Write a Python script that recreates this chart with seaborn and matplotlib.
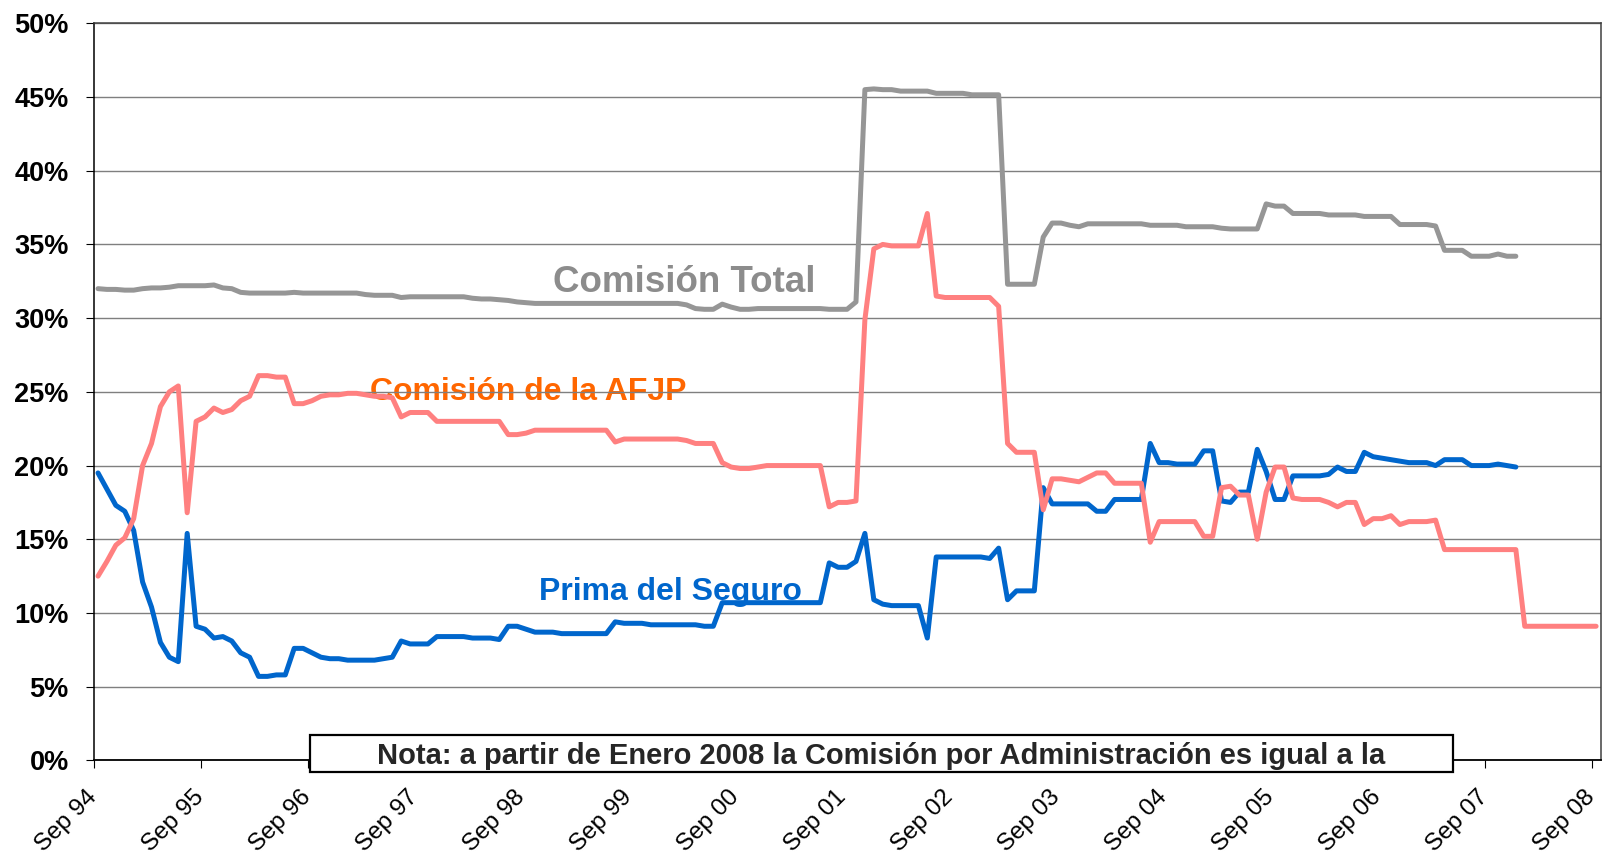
import numpy as np
import pandas as pd
import seaborn as sb
import matplotlib.pyplot as plt
from matplotlib.patches import Rectangle
from matplotlib.ticker import FuncFormatter

# Monthly values (%), first value = Sep 94
afjp = [12.5, 13.5, 14.6, 15.1, 16.4, 20.0, 21.5, 24.0, 25.0, 25.4,
        16.8, 23.0, 23.3, 23.9, 23.6, 23.8, 24.4, 24.7, 26.1, 26.1,
        26.0, 26.0, 24.2, 24.2, 24.4, 24.7, 24.8, 24.8, 24.9, 24.9,
        24.8, 24.7, 24.7, 24.6, 23.3, 23.6, 23.6, 23.6, 23.0, 23.0,
        23.0, 23.0, 23.0, 23.0, 23.0, 23.0, 22.1, 22.1, 22.2, 22.4,
        22.4, 22.4, 22.4, 22.4, 22.4, 22.4, 22.4, 22.4, 21.6, 21.8,
        21.8, 21.8, 21.8, 21.8, 21.8, 21.8, 21.7, 21.5, 21.5, 21.5,
        20.2, 19.9, 19.8, 19.8, 19.9, 20.0, 20.0, 20.0, 20.0, 20.0,
        20.0, 20.0, 17.2, 17.5, 17.5, 17.6, 29.9, 34.7, 35.0, 34.9,
        34.9, 34.9, 34.9, 37.1, 31.5, 31.4, 31.4, 31.4, 31.4, 31.4,
        31.4, 30.8, 21.5, 20.9, 20.9, 20.9, 17.0, 19.1, 19.1, 19.0,
        18.9, 19.2, 19.5, 19.5, 18.8, 18.8, 18.8, 18.8, 14.8, 16.2,
        16.2, 16.2, 16.2, 16.2, 15.2, 15.2, 18.5, 18.6, 18.0, 18.0,
        15.0, 18.2, 19.9, 19.9, 17.8, 17.7, 17.7, 17.7, 17.5, 17.2,
        17.5, 17.5, 16.0, 16.4, 16.4, 16.6, 16.0, 16.2, 16.2, 16.2,
        16.3, 14.3, 14.3, 14.3, 14.3, 14.3, 14.3, 14.3, 14.3, 14.3,
        9.1, 9.1, 9.1, 9.1, 9.1, 9.1, 9.1, 9.1, 9.1]

seguro = [19.5, 18.4, 17.3, 16.9, 15.6, 12.1, 10.4, 8.0, 7.0, 6.7,
          15.4, 9.1, 8.9, 8.3, 8.4, 8.1, 7.3, 7.0, 5.7, 5.7,
          5.8, 5.8, 7.6, 7.6, 7.3, 7.0, 6.9, 6.9, 6.8, 6.8,
          6.8, 6.8, 6.9, 7.0, 8.1, 7.9, 7.9, 7.9, 8.4, 8.4,
          8.4, 8.4, 8.3, 8.3, 8.3, 8.2, 9.1, 9.1, 8.9, 8.7,
          8.7, 8.7, 8.6, 8.6, 8.6, 8.6, 8.6, 8.6, 9.4, 9.3,
          9.3, 9.3, 9.2, 9.2, 9.2, 9.2, 9.2, 9.2, 9.1, 9.1,
          10.7, 10.7, 10.7, 10.7, 10.7, 10.7, 10.7, 10.7, 10.7, 10.7,
          10.7, 10.7, 13.4, 13.1, 13.1, 13.5, 15.4, 10.9, 10.6, 10.5,
          10.5, 10.5, 10.5, 8.3, 13.8, 13.8, 13.8, 13.8, 13.8, 13.8,
          13.7, 14.4, 10.9, 11.5, 11.5, 11.5, 18.5, 17.4, 17.4, 17.4,
          17.4, 17.4, 16.9, 16.9, 17.7, 17.7, 17.7, 17.7, 21.5, 20.2,
          20.2, 20.1, 20.1, 20.1, 21.0, 21.0, 17.6, 17.5, 18.2, 18.2,
          21.1, 19.6, 17.7, 17.7, 19.3, 19.3, 19.3, 19.3, 19.4, 19.9,
          19.6, 19.6, 20.9, 20.6, 20.5, 20.4, 20.3, 20.2, 20.2, 20.2,
          20.0, 20.4, 20.4, 20.4, 20.0, 20.0, 20.0, 20.1, 20.0, 19.9]

total = [32.0, 31.95, 31.95, 31.9, 31.9, 32.0, 32.05, 32.05, 32.1, 32.2,
         32.2, 32.2, 32.2, 32.25, 32.05, 32.0, 31.75, 31.7, 31.7, 31.7,
         31.7, 31.7, 31.75, 31.7, 31.7, 31.7, 31.7, 31.7, 31.7, 31.7,
         31.6, 31.55, 31.55, 31.55, 31.4, 31.45, 31.45, 31.45, 31.45, 31.45,
         31.45, 31.45, 31.35, 31.3, 31.3, 31.25, 31.2, 31.1, 31.05, 31.0,
         31.0, 31.0, 31.0, 31.0, 31.0, 31.0, 31.0, 31.0, 31.0, 31.0,
         31.0, 31.0, 31.0, 31.0, 31.0, 31.0, 30.9, 30.65, 30.6, 30.6,
         30.95, 30.75, 30.6, 30.6, 30.65, 30.65, 30.65, 30.65, 30.65, 30.65,
         30.65, 30.65, 30.6, 30.6, 30.6, 31.1, 45.5, 45.55, 45.5, 45.5,
         45.4, 45.4, 45.4, 45.4, 45.25, 45.25, 45.25, 45.25, 45.15, 45.15,
         45.15, 45.15, 32.3, 32.3, 32.3, 32.3, 35.5, 36.45, 36.45, 36.3,
         36.2, 36.4, 36.4, 36.4, 36.4, 36.4, 36.4, 36.4, 36.3, 36.3,
         36.3, 36.3, 36.2, 36.2, 36.2, 36.2, 36.1, 36.05, 36.05, 36.05,
         36.05, 37.75, 37.6, 37.6, 37.1, 37.1, 37.1, 37.1, 37.0, 37.0,
         37.0, 37.0, 36.9, 36.9, 36.9, 36.9, 36.35, 36.35, 36.35, 36.35,
         36.25, 34.6, 34.6, 34.6, 34.2, 34.2, 34.2, 34.35, 34.2, 34.2]

tick_labels = ['Sep 94', 'Sep 95', 'Sep 96', 'Sep 97', 'Sep 98', 'Sep 99', 'Sep 00',
               'Sep 01', 'Sep 02', 'Sep 03', 'Sep 04', 'Sep 05', 'Sep 06', 'Sep 07',
               'Sep 08']

nota = 'Nota: a partir de Enero 2008 la Comisión por Administración es igual a la'

sb.set_style('white')
plt.rcParams['font.family'] = ['Liberation Sans', 'DejaVu Sans']

fig = plt.figure(figsize=(16.02, 8.6), dpi=100)
ax = fig.add_axes([0.0584, 0.1158, 0.9407, 0.8571])

# points sit in the middle of each monthly category
df_seg = pd.DataFrame({'mes': np.arange(len(seguro)) + 0.5, 'valor': seguro})
df_afjp = pd.DataFrame({'mes': np.arange(len(afjp)) + 0.5, 'valor': afjp})
df_tot = pd.DataFrame({'mes': np.arange(len(total)) + 0.5, 'valor': total})

sb.lineplot(data=df_seg, x='mes', y='valor', color='#0066CC', lw=3.6, ax=ax)
sb.lineplot(data=df_afjp, x='mes', y='valor', color='#FF8080', lw=3.6, ax=ax)
sb.lineplot(data=df_tot, x='mes', y='valor', color='#969696', lw=3.6, ax=ax)

# series labels (under the gridlines)
ax.text(51.5, 31.78, 'Comisión Total', color='#8c8c8c', fontsize=26.5,
        fontweight='bold', ha='left', va='baseline', zorder=0.3)
ax.text(31.0, 24.47, 'Comisión de la AFJP', color='#FF6600', fontsize=23,
        fontweight='bold', ha='left', va='baseline', zorder=0.3)
ax.text(49.9, 10.85, 'Prima del Seguro', color='#0066CC', fontsize=23,
        fontweight='bold', ha='left', va='baseline', zorder=0.3)

ax.set_xlim(0, 169)
ax.set_ylim(0, 50)
ax.set_xticks(np.arange(len(tick_labels)) * 12)
ax.set_xticklabels(tick_labels)
ax.set_yticks(np.arange(0, 51, 5))
ax.yaxis.set_major_formatter(FuncFormatter(lambda v, p: '{:.0f}%'.format(v)))
ax.set_xlabel('')
ax.set_ylabel('')

ax.set_axisbelow(True)
ax.yaxis.grid(True, color='#7f7f7f', lw=1.0)
ax.xaxis.grid(False)

ax.spines['left'].set_color('black')
ax.spines['left'].set_linewidth(1.1)
ax.spines['bottom'].set_color('black')
ax.spines['bottom'].set_linewidth(1.3)
ax.spines['right'].set_color('#404040')
ax.spines['right'].set_linewidth(1.1)
ax.spines['top'].set_color('#404040')
ax.spines['top'].set_linewidth(1.1)

ax.tick_params(bottom=True, left=True, direction='out', colors='black')
ax.tick_params(axis='x', length=5.8, width=0.8, pad=18, labelsize=17.5)
ax.tick_params(axis='y', length=5.8, width=0.8, pad=12, labelsize=19.5)
for lbl in ax.get_yticklabels():
    lbl.set_fontweight('bold')
plt.setp(ax.get_xticklabels(), rotation=45, ha='right', va='center',
         rotation_mode='anchor')

# note box over the x axis
box = Rectangle((310 / 1602, 1 - 772 / 860), 1142.7 / 1602, 37 / 860,
                transform=fig.transFigure, facecolor='white', edgecolor='black',
                lw=1.6, zorder=5)
fig.add_artist(box)
txt = fig.text(881 / 1602, 1 - 764.3 / 860, nota, ha='center', va='baseline',
               fontsize=21, fontweight='bold', zorder=6)
txt.set_clip_path(box)

fig.savefig('out.png', dpi=100)
